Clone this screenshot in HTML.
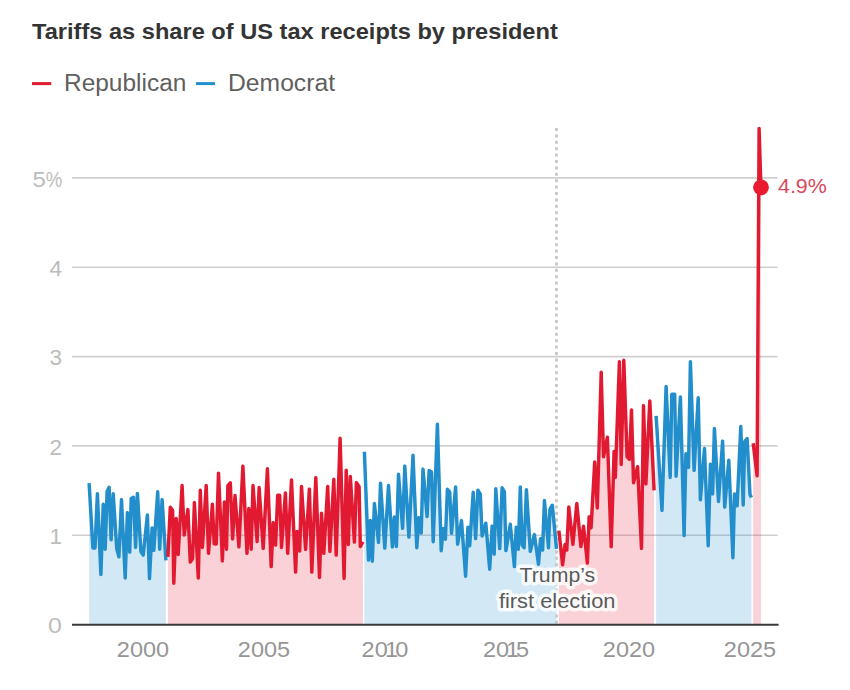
<!DOCTYPE html>
<html><head><meta charset="utf-8">
<style>
html,body{margin:0;padding:0;background:#fff;}
body{width:850px;height:690px;overflow:hidden;position:relative;font-family:"Liberation Sans",sans-serif;}
.t{position:absolute;white-space:nowrap;line-height:1;}
#title{left:31.5px;top:21.3px;font-size:22.3px;font-weight:bold;color:#333;transform:scaleX(1.059);transform-origin:left;}
.leg{font-size:23.3px;color:#5f5f5f;top:72px;transform-origin:left;}
.yl{font-size:21.5px;color:#bcbcbc;width:62.3px;left:0;text-align:right;}
.xl{font-size:22.2px;color:#969696;width:80px;text-align:center;top:638.6px;transform:scaleX(1.06);}
.d{display:inline-block;transform:scaleX(1.05);transform-origin:right;}
.one{display:inline-block;margin:0 -1.6px;}
svg{position:absolute;left:0;top:0;}
</style></head><body>
<svg width="850" height="690" viewBox="0 0 850 690">
<line x1="72" x2="777.5" y1="535.3" y2="535.3" stroke="#cfcfcf" stroke-width="1.6"/><line x1="72" x2="777.5" y1="445.9" y2="445.9" stroke="#cfcfcf" stroke-width="1.6"/><line x1="72" x2="777.5" y1="356.6" y2="356.6" stroke="#cfcfcf" stroke-width="1.6"/><line x1="72" x2="777.5" y1="267.2" y2="267.2" stroke="#cfcfcf" stroke-width="1.6"/><line x1="72" x2="777.5" y1="177.9" y2="177.9" stroke="#cfcfcf" stroke-width="1.6"/>
<path d="M89.1,483.2 L92.9,548.0 L95.0,548.0 L97.4,493.8 L100.9,574.5 L103.2,504.3 L105.2,549.2 L107.1,491.5 L109.1,487.3 L111.1,539.8 L113.2,493.8 L116.8,549.1 L118.9,556.8 L121.5,499.6 L125.2,578.0 L127.4,512.6 L129.7,552.1 L131.2,498.5 L133.5,497.3 L135.6,547.4 L137.4,493.4 L140.9,551.5 L143.2,555.1 L147.4,514.9 L149.5,578.6 L152.1,527.9 L153.8,550.4 L157.7,491.8 L159.7,549.2 L162.1,499.6 L165.9,560.3 L165.9,624.6 L89.1,624.6 Z" fill="#228ecb" fill-opacity="0.2"/>
<path d="M167.9,556.8 L170.3,507.3 L172.6,510.3 L173.8,583.3 L176.2,518.5 L178.2,554.5 L182.1,485.5 L184.2,535.1 L187.9,509.6 L190.3,562.1 L192.6,558.5 L194.4,502.6 L198.3,578.0 L200.3,490.2 L202.4,547.4 L206.2,485.5 L208.5,553.3 L212.4,504.3 L214.2,543.8 L216.2,544.1 L218.5,473.2 L222.4,560.9 L224.4,502.0 L226.5,549.2 L227.9,485.6 L230.3,482.8 L232.6,538.9 L235.0,495.5 L238.9,546.8 L242.9,466.1 L247.0,553.3 L248.8,508.5 L251.2,549.2 L253.0,485.5 L257.1,541.5 L259.1,487.5 L263.2,548.4 L267.4,468.8 L271.2,566.6 L273.2,522.6 L275.6,545.1 L277.7,495.2 L279.7,495.2 L281.5,547.4 L285.4,492.9 L287.7,553.3 L291.5,479.9 L295.6,572.1 L297.1,531.4 L299.7,550.9 L301.5,486.4 L305.6,549.4 L309.4,489.1 L311.8,572.1 L315.8,477.6 L319.5,577.4 L321.5,513.2 L323.8,553.3 L327.7,486.4 L329.9,551.5 L333.8,479.3 L336.2,555.1 L340.1,438.2 L344.1,578.4 L346.2,470.3 L348.3,544.5 L350.3,476.4 L354.4,542.1 L356.4,482.6 L359.1,486.8 L360.3,546.5 L362.9,541.8 L362.9,624.6 L167.9,624.6 Z" fill="#e11a32" fill-opacity="0.2"/>
<path d="M364.4,451.7 L368.5,560.1 L370.3,520.5 L372.3,561.2 L374.4,503.5 L378.5,542.4 L380.5,483.2 L384.8,548.1 L388.5,485.5 L392.4,546.9 L394.4,517.0 L396.4,546.5 L398.5,474.3 L402.6,528.3 L404.8,466.1 L408.9,537.1 L413.0,455.3 L416.8,547.7 L418.9,517.6 L421.2,533.0 L423.0,469.1 L427.1,516.5 L429.1,470.6 L431.5,472.0 L433.2,541.8 L437.4,424.3 L441.2,550.7 L443.2,528.5 L445.4,539.2 L447.4,489.3 L449.7,491.8 L451.5,533.3 L455.6,487.0 L457.6,544.2 L461.5,520.6 L465.6,576.2 L467.9,527.3 L469.7,545.7 L473.2,492.3 L475.6,538.6 L477.9,490.2 L480.3,494.1 L482.1,536.0 L485.8,523.2 L489.7,569.2 L492.1,526.1 L494.2,554.1 L495.8,488.8 L499.7,548.6 L502.1,487.8 L504.4,491.8 L505.9,550.6 L510.3,524.3 L514.4,566.6 L516.2,527.3 L518.3,549.2 L520.3,487.0 L522.1,545.0 L524.1,547.8 L526.4,489.7 L530.3,551.3 L534.4,534.6 L538.5,564.2 L540.5,538.8 L542.6,550.1 L544.4,500.5 L548.5,547.7 L549.9,509.4 L552.3,505.2 L556.5,548.8 L556.5,624.6 L364.4,624.6 Z" fill="#228ecb" fill-opacity="0.2"/>
<path d="M558.9,530.6 L562.6,564.8 L565.0,544.6 L566.8,550.1 L568.8,507.0 L572.9,544.4 L576.8,503.5 L580.9,546.5 L583.5,526.2 L587.4,563.0 L589.1,516.8 L591.1,527.7 L594.7,462.0 L597.3,508.0 L601.2,372.3 L603.5,456.8 L607.4,437.3 L611.2,546.8 L614.1,451.4 L615.3,477.4 L619.4,361.7 L621.2,464.5 L623.8,360.2 L627.1,456.8 L629.4,459.2 L631.5,409.9 L633.5,482.7 L637.6,466.7 L641.5,548.4 L643.5,405.6 L645.9,483.9 L649.8,400.9 L654.1,490.3 L654.1,624.6 L558.9,624.6 Z" fill="#e11a32" fill-opacity="0.2"/>
<path d="M656.1,415.9 L662.0,510.4 L666.1,386.4 L670.2,477.4 L671.8,394.3 L674.7,394.3 L676.1,476.2 L680.4,397.0 L684.1,535.6 L685.9,453.8 L688.5,467.4 L690.4,361.7 L694.1,470.4 L698.2,397.8 L700.4,499.8 L704.5,448.5 L708.2,545.7 L710.4,464.3 L712.6,493.9 L714.4,428.5 L718.5,501.5 L722.6,441.1 L724.7,507.1 L728.8,460.2 L732.9,557.7 L734.5,494.0 L737.1,505.9 L740.8,426.4 L743.2,505.0 L744.7,441.5 L747.1,438.5 L750.0,494.4 L751.4,497.4 L751.4,624.6 L656.1,624.6 Z" fill="#228ecb" fill-opacity="0.2"/>
<path d="M753.2,443.2 L757.1,475.7 L759.1,128.5 L760.9,187.0 L760.9,624.6 L753.2,624.6 Z" fill="#e11a32" fill-opacity="0.2"/>
<line x1="556.5" x2="556.5" y1="128" y2="624" stroke="#c8c8c8" stroke-width="2.8" stroke-dasharray="3 3.4"/>
<line x1="72" x2="778.6" y1="624.7" y2="624.7" stroke="#383838" stroke-width="2.1"/>
<path d="M89.1,483.2 L92.9,548.0 L95.0,548.0 L97.4,493.8 L100.9,574.5 L103.2,504.3 L105.2,549.2 L107.1,491.5 L109.1,487.3 L111.1,539.8 L113.2,493.8 L116.8,549.1 L118.9,556.8 L121.5,499.6 L125.2,578.0 L127.4,512.6 L129.7,552.1 L131.2,498.5 L133.5,497.3 L135.6,547.4 L137.4,493.4 L140.9,551.5 L143.2,555.1 L147.4,514.9 L149.5,578.6 L152.1,527.9 L153.8,550.4 L157.7,491.8 L159.7,549.2 L162.1,499.6 L165.9,560.3" fill="none" stroke="#228ecb" stroke-width="3.45" stroke-linejoin="round" stroke-linecap="butt"/>
<path d="M167.9,556.8 L170.3,507.3 L172.6,510.3 L173.8,583.3 L176.2,518.5 L178.2,554.5 L182.1,485.5 L184.2,535.1 L187.9,509.6 L190.3,562.1 L192.6,558.5 L194.4,502.6 L198.3,578.0 L200.3,490.2 L202.4,547.4 L206.2,485.5 L208.5,553.3 L212.4,504.3 L214.2,543.8 L216.2,544.1 L218.5,473.2 L222.4,560.9 L224.4,502.0 L226.5,549.2 L227.9,485.6 L230.3,482.8 L232.6,538.9 L235.0,495.5 L238.9,546.8 L242.9,466.1 L247.0,553.3 L248.8,508.5 L251.2,549.2 L253.0,485.5 L257.1,541.5 L259.1,487.5 L263.2,548.4 L267.4,468.8 L271.2,566.6 L273.2,522.6 L275.6,545.1 L277.7,495.2 L279.7,495.2 L281.5,547.4 L285.4,492.9 L287.7,553.3 L291.5,479.9 L295.6,572.1 L297.1,531.4 L299.7,550.9 L301.5,486.4 L305.6,549.4 L309.4,489.1 L311.8,572.1 L315.8,477.6 L319.5,577.4 L321.5,513.2 L323.8,553.3 L327.7,486.4 L329.9,551.5 L333.8,479.3 L336.2,555.1 L340.1,438.2 L344.1,578.4 L346.2,470.3 L348.3,544.5 L350.3,476.4 L354.4,542.1 L356.4,482.6 L359.1,486.8 L360.3,546.5 L362.9,541.8" fill="none" stroke="#e11a32" stroke-width="3.45" stroke-linejoin="round" stroke-linecap="butt"/>
<path d="M364.4,451.7 L368.5,560.1 L370.3,520.5 L372.3,561.2 L374.4,503.5 L378.5,542.4 L380.5,483.2 L384.8,548.1 L388.5,485.5 L392.4,546.9 L394.4,517.0 L396.4,546.5 L398.5,474.3 L402.6,528.3 L404.8,466.1 L408.9,537.1 L413.0,455.3 L416.8,547.7 L418.9,517.6 L421.2,533.0 L423.0,469.1 L427.1,516.5 L429.1,470.6 L431.5,472.0 L433.2,541.8 L437.4,424.3 L441.2,550.7 L443.2,528.5 L445.4,539.2 L447.4,489.3 L449.7,491.8 L451.5,533.3 L455.6,487.0 L457.6,544.2 L461.5,520.6 L465.6,576.2 L467.9,527.3 L469.7,545.7 L473.2,492.3 L475.6,538.6 L477.9,490.2 L480.3,494.1 L482.1,536.0 L485.8,523.2 L489.7,569.2 L492.1,526.1 L494.2,554.1 L495.8,488.8 L499.7,548.6 L502.1,487.8 L504.4,491.8 L505.9,550.6 L510.3,524.3 L514.4,566.6 L516.2,527.3 L518.3,549.2 L520.3,487.0 L522.1,545.0 L524.1,547.8 L526.4,489.7 L530.3,551.3 L534.4,534.6 L538.5,564.2 L540.5,538.8 L542.6,550.1 L544.4,500.5 L548.5,547.7 L549.9,509.4 L552.3,505.2 L556.5,548.8" fill="none" stroke="#228ecb" stroke-width="3.45" stroke-linejoin="round" stroke-linecap="butt"/>
<path d="M558.9,530.6 L562.6,564.8 L565.0,544.6 L566.8,550.1 L568.8,507.0 L572.9,544.4 L576.8,503.5 L580.9,546.5 L583.5,526.2 L587.4,563.0 L589.1,516.8 L591.1,527.7 L594.7,462.0 L597.3,508.0 L601.2,372.3 L603.5,456.8 L607.4,437.3 L611.2,546.8 L614.1,451.4 L615.3,477.4 L619.4,361.7 L621.2,464.5 L623.8,360.2 L627.1,456.8 L629.4,459.2 L631.5,409.9 L633.5,482.7 L637.6,466.7 L641.5,548.4 L643.5,405.6 L645.9,483.9 L649.8,400.9 L654.1,490.3" fill="none" stroke="#e11a32" stroke-width="3.45" stroke-linejoin="round" stroke-linecap="butt"/>
<path d="M656.1,415.9 L662.0,510.4 L666.1,386.4 L670.2,477.4 L671.8,394.3 L674.7,394.3 L676.1,476.2 L680.4,397.0 L684.1,535.6 L685.9,453.8 L688.5,467.4 L690.4,361.7 L694.1,470.4 L698.2,397.8 L700.4,499.8 L704.5,448.5 L708.2,545.7 L710.4,464.3 L712.6,493.9 L714.4,428.5 L718.5,501.5 L722.6,441.1 L724.7,507.1 L728.8,460.2 L732.9,557.7 L734.5,494.0 L737.1,505.9 L740.8,426.4 L743.2,505.0 L744.7,441.5 L747.1,438.5 L750.0,494.4 L751.4,497.4" fill="none" stroke="#228ecb" stroke-width="3.45" stroke-linejoin="round" stroke-linecap="butt"/>
<path d="M753.2,443.2 L757.1,475.7 L759.1,128.5 L760.9,187.0" fill="none" stroke="#e11a32" stroke-width="3.45" stroke-linejoin="round" stroke-linecap="butt"/>
<g font-family="Liberation Sans, sans-serif" font-size="21.1" text-anchor="middle" fill="#5a5a5a" stroke="#fff" stroke-width="7" stroke-opacity="0.82" stroke-linejoin="round" paint-order="stroke">
<text x="557.4" y="581.8" textLength="75.6" lengthAdjust="spacingAndGlyphs">Trump’s</text>
<text x="557.2" y="608.1" textLength="116.6" lengthAdjust="spacingAndGlyphs">first election</text>
</g>
<circle cx="761" cy="187.3" r="7.9" fill="#ea1b30"/>
<line x1="32" x2="51.2" y1="83.6" y2="83.6" stroke="#e11a32" stroke-width="3"/>
<line x1="196" x2="215" y1="83.6" y2="83.6" stroke="#228ecb" stroke-width="3"/>
</svg>
<div id="title" class="t">Tariffs as share of US tax receipts by president</div>
<div class="t leg" style="left:63.6px;transform:scaleX(1.05)">Republican</div>
<div class="t leg" style="left:228px;transform:scaleX(1.06)">Democrat</div>
<div class="t yl" style="top:169.6px"><span class="d" style="transform:scaleX(1.12);margin-right:-0.3px">5</span><span style="display:inline-block;transform:scaleX(0.86);transform-origin:right;margin-left:-2.2px">%</span></div>
<div class="t yl" style="top:258.9px"><span class="d">4</span></div>
<div class="t yl" style="top:348.2px"><span class="d">3</span></div>
<div class="t yl" style="top:437.6px"><span class="d">2</span></div>
<div class="t yl" style="top:526.9px"><span class="d">1</span></div>
<div class="t yl" style="top:616.2px"><span class="d" style="transform:scaleX(1.16)">0</span></div>
<div class="t xl" style="left:102.8px">2000</div>
<div class="t xl" style="left:224.4px">2005</div>
<div class="t xl" style="left:345px">20<span class="one" style="margin:0 -2.6px">1</span>0</div>
<div class="t xl" style="left:466px">20<span class="one" style="margin:0 -3px">1</span>5</div>
<div class="t xl" style="left:588.6px">2020</div>
<div class="t xl" style="left:710.2px">2025</div>
<div class="t" style="left:777.6px;top:175.6px;font-size:20px;color:#d9485e;transform:scaleX(1.07);transform-origin:left">4.9%</div>
</body></html>
